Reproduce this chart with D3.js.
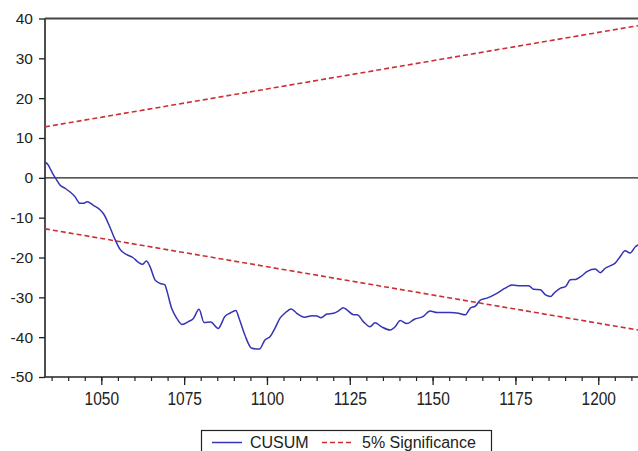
<!DOCTYPE html>
<html>
<head>
<meta charset="utf-8">
<script src="https://cdn.jsdelivr.net/npm/d3@7"></script>
<style>
  html, body { margin: 0; padding: 0; background: #fff; }
  svg { display: block; }
  text { font-family: "Liberation Sans", Arial, sans-serif; fill: #222; }
</style>
</head>
<body>
<div id="chart"></div>
<script>
const obs = [1033, 1034, 1034.5, 1035.5, 1036.5, 1037.5, 1039, 1040.5, 1042, 1043.6,
  1044.6, 1045.7, 1047.6, 1049.6, 1050.8, 1052.6, 1054.1, 1055.6, 1057.7, 1059.5,
  1061.2, 1062.4, 1063.6, 1064.7, 1066.2, 1067.7, 1069.2, 1069.7, 1071.2, 1072.8,
  1074.3, 1076.3, 1077.8, 1079.5, 1081, 1083, 1085.3, 1087.3, 1088.8, 1090.6,
  1091.6, 1093.3, 1095.4, 1097.7, 1099.4, 1100.9, 1102.4, 1103.9, 1105.4, 1107.3,
  1109, 1111.3, 1113.6, 1115.1, 1116.3, 1118.1, 1120.1, 1121.6, 1123, 1124.2,
  1126.2, 1127.2, 1129.1, 1131.1, 1132.6, 1134.6, 1137.2, 1138.7, 1140.2, 1142.2,
  1144.5, 1147.2, 1149.2, 1151.3, 1155.3, 1157.8, 1159.8, 1161.4, 1162.9, 1164.4,
  1166.4, 1169.4, 1171.9, 1174, 1176.5, 1179, 1180.5, 1182.5, 1184.1, 1185.6,
  1186.6, 1188.6, 1190.1, 1191.6, 1193.2, 1194.7, 1196.7, 1199.1, 1200.6, 1202.1,
  1204.1, 1205.1, 1206.6, 1208.1, 1209.6, 1211.2, 1212];
const cusum = [3.9, 3.2, 2.4, 0.8, -0.5, -1.8, -2.6, -3.5, -4.7, -6.4,
  -6.4, -6.0, -6.9, -8.0, -9.2, -12.4, -15.4, -17.9, -19.3, -20.0,
  -21.2, -21.7, -20.9, -22.3, -25.6, -26.5, -26.9, -28.1, -32.7, -35.3,
  -36.8, -36.1, -35.3, -33.0, -36.3, -36.2, -37.8, -34.8, -34.0, -33.3,
  -35.3, -39.4, -42.8, -43.0, -40.7, -39.9, -37.8, -35.3, -34.0, -32.9,
  -34.0, -35.0, -34.6, -34.7, -35.1, -34.2, -34.0, -33.4, -32.6, -33.2,
  -34.4, -34.4, -36.1, -37.4, -36.4, -37.4, -38.2, -37.4, -35.8, -36.6,
  -35.5, -34.8, -33.4, -33.8, -33.8, -34.0, -34.4, -32.7, -32.2, -30.7,
  -30.2, -29.0, -27.7, -26.9, -27.1, -27.1, -28.0, -28.1, -29.4, -29.8,
  -29.0, -27.7, -27.3, -25.6, -25.5, -24.8, -23.5, -22.9, -23.8, -22.7,
  -21.9, -21.4, -19.8, -18.3, -18.9, -17.3, -16.8];

// 5% significance bounds (straight lines, start and end)
const boundObs = [1033, 1212];
const upperBound = [12.8, 38.2];
const lowerBound = [-12.8, -38.2];

const yTicks = [40, 30, 20, 10, 0, -10, -20, -30, -40, -50];
const xLabelTicks = [1050, 1075, 1100, 1125, 1150, 1175, 1200];
const xMinorTicks = d3.range(1035, 1213, 5);

const legendLabels = ["CUSUM", "5% Significance"];

const width = 638;
const height = 451;
const m = { left: 45, right: 638, top: 18.5, bottom: 377 };

const x = d3.scaleLinear().domain([1033, 1212]).range([m.left, m.right]);
const y = d3.scaleLinear().domain([-50, 40]).range([m.bottom, m.top]);

// plain hyphen minus like the original, not the unicode minus
const fmt = (d) => String(d);

const svg = d3.select("#chart")
    .append("svg")
    .attr("width", width)
    .attr("height", height);

svg.append("defs").append("clipPath")
    .attr("id", "clip")
    .append("rect")
    .attr("x", m.left).attr("y", m.top - 2)
    .attr("width", m.right - m.left + 2).attr("height", m.bottom - m.top + 4);

// y axis
const yAxis = svg.append("g")
    .attr("transform", `translate(${m.left},0)`)
    .call(d3.axisLeft(y).tickValues(yTicks).tickSize(6).tickPadding(6)
        .tickFormat(fmt).tickSizeOuter(0));
yAxis.select(".domain").remove();
yAxis.selectAll("line").attr("stroke", "#222").attr("stroke-width", 1.3);
yAxis.selectAll("text").attr("font-size", 15.5).attr("fill", "#222")
    .attr("font-family", "'Liberation Sans', Arial, sans-serif");

// x axis minor ticks
const xMinor = svg.append("g")
    .attr("transform", `translate(0,${m.bottom})`)
    .call(d3.axisBottom(x).tickValues(xMinorTicks).tickSize(4).tickFormat("").tickSizeOuter(0));
xMinor.select(".domain").remove();
xMinor.selectAll("line").attr("stroke", "#222").attr("stroke-width", 1.2);

// x axis labelled ticks (labels are a bit stretched vertically in the original)
const xAxis = svg.append("g")
    .attr("transform", `translate(0,${m.bottom})`)
    .call(d3.axisBottom(x).tickValues(xLabelTicks).tickSize(8).tickPadding(9)
        .tickFormat(fmt).tickSizeOuter(0));
xAxis.select(".domain").remove();
xAxis.selectAll("line").attr("stroke", "#222").attr("stroke-width", 1.3);
xAxis.selectAll("text")
    .attr("font-size", 15.5).attr("fill", "#222")
    .attr("font-family", "'Liberation Sans', Arial, sans-serif")
    .attr("y", 0).attr("dy", 0)
    .attr("transform", "translate(0,28) scale(1,1.2)");

// frame: left, top, bottom and zero line
const frame = svg.append("g").attr("stroke", "#222").attr("stroke-width", 1.6);
frame.append("line").attr("x1", m.left).attr("x2", m.left).attr("y1", m.top).attr("y2", m.bottom);
frame.append("line").attr("x1", m.left).attr("x2", width).attr("y1", m.top).attr("y2", m.top)
    .attr("stroke", "#444").attr("stroke-width", 2);
frame.append("line").attr("x1", m.left).attr("x2", width).attr("y1", m.bottom).attr("y2", m.bottom);
frame.append("line").attr("x1", m.left).attr("x2", width).attr("y1", y(0)).attr("y2", y(0))
    .attr("stroke-width", 1.4);

const plot = svg.append("g").attr("clip-path", "url(#clip)");

const line = d3.line()
    .x((d) => x(d[0]))
    .y((d) => y(d[1]));

[upperBound, lowerBound].forEach((b) => {
    plot.append("path")
        .datum(boundObs.map((t, i) => [t, b[i]]))
        .attr("d", line)
        .attr("fill", "none")
        .attr("stroke", "#cc2e33")
        .attr("stroke-width", 1.6)
        .attr("stroke-dasharray", "5,3");
});

plot.append("path")
    .datum(obs.map((t, i) => [t, cusum[i]]))
    .attr("d", line.curve(d3.curveMonotoneX))
    .attr("fill", "none")
    .attr("stroke", "#3434b4")
    .attr("stroke-width", 1.5)
    .attr("stroke-linejoin", "round");

// legend (box runs off the bottom edge, like the original)
const legend = svg.append("g");
legend.append("rect")
    .attr("x", 201.5).attr("y", 430.5)
    .attr("width", 290).attr("height", 30)
    .attr("fill", "#fff").attr("stroke", "#222").attr("stroke-width", 1.2);
legend.append("line")
    .attr("x1", 212).attr("x2", 242).attr("y1", 442.5).attr("y2", 442.5)
    .attr("stroke", "#3434b4").attr("stroke-width", 1.5);
legend.append("text").attr("font-size", 16)
    .attr("x", 250).attr("y", 447.5)
    .text(legendLabels[0]);
legend.append("line")
    .attr("x1", 322).attr("x2", 354).attr("y1", 442.5).attr("y2", 442.5)
    .attr("stroke", "#cc2e33").attr("stroke-width", 1.5).attr("stroke-dasharray", "5,3");
legend.append("text").attr("font-size", 16)
    .attr("x", 362).attr("y", 447.5)
    .text(legendLabels[1]);
</script>
</body>
</html>
